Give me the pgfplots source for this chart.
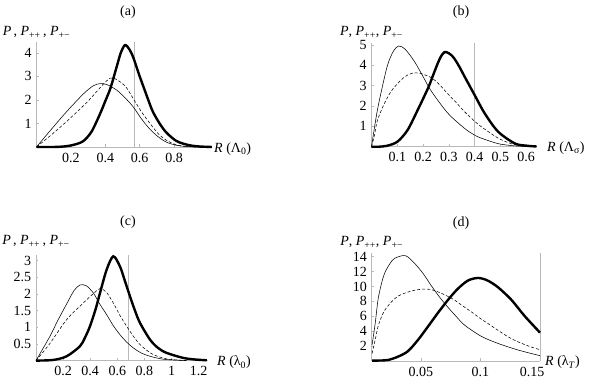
\documentclass[border=0pt]{standalone}
\usepackage{fontspec}
\setmainfont{Liberation Serif}
\usepackage{pgfplots}
\pgfplotsset{compat=1.18}
\pgfplotsset{
 myax/.style={
  scale only axis, axis lines=left, axis line style={-, gray!55, line width=0.6pt},
  tick align=inside, major tick length=2.5pt, tick style={gray!55, line width=0.5pt},
  ymin=0, clip=false, font=\fontsize{14}{16}\selectfont,
  /pgf/number format/assume math mode=true,
  /pgf/number format/fixed, /pgf/number format/precision=2,
  xticklabel style={yshift=-1pt},
 },
 thn/.style={black, line width=0.55pt, smooth},
 dsh/.style={black, line width=0.55pt, dash pattern=on 3pt off 2pt, smooth},
 thk/.style={black, line width=2.4pt, smooth},
 vl/.style={gray!55, line width=0.6pt},
}
\begin{document}
\begin{tikzpicture}
\useasboundingbox (0,0) rectangle (598pt,382pt);
\fontsize{14}{16}\selectfont
% ---------------- (a)
\begin{axis}[myax, at={(36.5pt,235pt)}, anchor=south west, width=175.4pt, height=105.2pt,
  xmin=0, xmax=1.02, ymax=4.47, xtick={0.2,0.4,0.6,0.8}, ytick={1,2,3,4}]
\addplot[vl] coordinates {(0.57,0) (0.57,4.47)};
\addplot[thn] coordinates {(0,0) (0.078,0.68) (0.175,1.5) (0.272,2.25) (0.33,2.6) (0.369,2.69) (0.41,2.65) (0.466,2.42) (0.52,2.05) (0.563,1.7) (0.61,1.2) (0.66,0.75) (0.71,0.42) (0.757,0.2) (0.81,0.08) (0.854,0.03) (0.95,0) (1.02,0)};
\addplot[dsh] coordinates {(0,0) (0.1,0.6) (0.2,1.25) (0.3,1.95) (0.38,2.6) (0.43,2.93) (0.47,2.85) (0.52,2.55) (0.563,2.05) (0.61,1.5) (0.66,1.0) (0.71,0.55) (0.757,0.28) (0.81,0.1) (0.85,0.04) (0.92,0.0) (1.02,0)};
\addplot[thk] coordinates {(0,0) (0.1,0.0) (0.17,0.03) (0.22,0.1) (0.272,0.25) (0.32,0.65) (0.369,1.4) (0.40,1.95) (0.43,2.5) (0.466,3.4) (0.49,4.0) (0.515,4.33) (0.54,4.15) (0.563,3.8) (0.6,3.0) (0.62,2.6) (0.66,1.8) (0.68,1.45) (0.72,0.95) (0.757,0.6) (0.81,0.27) (0.854,0.14) (0.9,0.06) (0.95,0.02) (1.02,0.0)};
\end{axis}
% ---------------- (b)
\begin{axis}[myax, at={(371.5pt,235.3pt)}, anchor=south west, width=165pt, height=103.3pt,
  xmin=0, xmax=0.64, ymax=5.08, xtick={0.1,0.2,0.3,0.4,0.5,0.6}, ytick={1,2,3,4,5}]
\addplot[vl] coordinates {(0.4,0) (0.4,5.08)};
\addplot[thn] coordinates {(0,0) (0.02,1.6) (0.036,2.6) (0.062,4.0) (0.085,4.7) (0.105,4.95) (0.13,4.8) (0.166,4.2) (0.2,3.45) (0.231,2.75) (0.296,1.65) (0.361,0.9) (0.4,0.57) (0.426,0.42) (0.491,0.15) (0.556,0.04) (0.62,0.01)};
\addplot[dsh] coordinates {(0,0) (0.012,0.6) (0.023,1.3) (0.049,2.1) (0.075,2.7) (0.101,3.1) (0.13,3.45) (0.16,3.62) (0.19,3.6) (0.231,3.4) (0.26,3.1) (0.296,2.6) (0.33,2.15) (0.361,1.72) (0.4,1.25) (0.426,0.98) (0.46,0.68) (0.491,0.42) (0.53,0.2) (0.556,0.1) (0.6,0.03) (0.64,0.0)};
\addplot[thk] coordinates {(0,0) (0.03,0.0) (0.062,0.05) (0.101,0.25) (0.14,0.82) (0.179,1.8) (0.22,2.9) (0.24,3.55) (0.257,4.1) (0.27,4.45) (0.283,4.65) (0.296,4.62) (0.31,4.5) (0.322,4.32) (0.34,3.95) (0.361,3.45) (0.4,2.54) (0.439,1.64) (0.491,0.74) (0.556,0.16) (0.6,0.05) (0.64,0.01)};
\end{axis}
% ---------------- (c)
\begin{axis}[myax, at={(36pt,21.4pt)}, anchor=south west, width=172.2pt, height=105.9pt,
  xmin=0, xmax=1.27, ymax=3.18, xtick={0.2,0.4,0.6,0.8,1,1.2}, ytick={0.5,1,1.5,2,2.5,3}]
\addplot[vl] coordinates {(0.68,0) (0.68,3.18)};
\addplot[thn] coordinates {(0,0) (0.103,0.73) (0.16,1.2) (0.226,1.7) (0.28,2.1) (0.324,2.27) (0.37,2.25) (0.423,2.03) (0.47,1.7) (0.521,1.38) (0.57,1.05) (0.619,0.78) (0.67,0.55) (0.718,0.38) (0.78,0.22) (0.841,0.13) (0.9,0.07) (0.964,0.03) (1.11,0.0)};
\addplot[dsh] coordinates {(0,0) (0.1,0.5) (0.226,1.23) (0.349,1.73) (0.42,2.0) (0.472,2.16) (0.52,2.05) (0.57,1.73) (0.62,1.35) (0.669,1.03) (0.72,0.72) (0.767,0.48) (0.82,0.3) (0.865,0.18) (0.964,0.05) (1.11,0.0)};
\addplot[thk] coordinates {(0,0) (0.128,0.02) (0.226,0.13) (0.324,0.43) (0.36,0.68) (0.398,1.03) (0.44,1.55) (0.472,2.03) (0.521,2.73) (0.57,3.13) (0.619,2.83) (0.655,2.4) (0.693,1.93) (0.73,1.5) (0.767,1.13) (0.841,0.63) (0.9,0.38) (0.964,0.23) (1.087,0.08) (1.18,0.03) (1.26,0.01)};
\end{axis}
% ---------------- (d)
\begin{axis}[myax, at={(371.7pt,21.1pt)}, anchor=south west, width=168.3pt, height=107.5pt,
  xmin=0.0086, xmax=0.15, ymax=14.45, xtick={0.05,0.1,0.15},
  xticklabels={0.05,0.1,\hspace*{-16pt}0.15}, ytick={2,4,6,8,10,12,14}]
\addplot[vl] coordinates {(0.15,0) (0.15,14.45)};
\addplot[thn] coordinates {(0.0089,2.14) (0.0115,5.0) (0.0139,8.2) (0.0165,10.2) (0.0195,11.8) (0.024,13.1) (0.028,13.8) (0.0369,14.15) (0.0447,13.1) (0.052,11.7) (0.0587,10.1) (0.066,8.5) (0.0727,7.2) (0.08,5.9) (0.0867,4.8) (0.1007,3.3) (0.1147,2.35) (0.1287,1.6) (0.14,1.1) (0.15,0.7)};
\addplot[dsh] coordinates {(0.0089,1.0) (0.0115,2.8) (0.0139,4.6) (0.0165,5.8) (0.0195,6.8) (0.025,7.9) (0.0307,8.7) (0.038,9.2) (0.0447,9.5) (0.052,9.65) (0.058,9.6) (0.064,9.3) (0.071,8.8) (0.078,8.2) (0.085,7.4) (0.0923,6.6) (0.099,5.8) (0.106,5.05) (0.113,4.3) (0.12,3.55) (0.127,2.9) (0.134,2.4) (0.141,1.95) (0.15,1.5)};
\addplot[thk] coordinates {(0.0089,0.03) (0.015,0.05) (0.0223,0.12) (0.0307,0.57) (0.039,1.3) (0.0474,2.8) (0.0558,4.6) (0.064,6.4) (0.0727,8.2) (0.081,9.7) (0.0895,10.8) (0.098,11.15) (0.106,10.8) (0.1147,9.9) (0.126,8.2) (0.137,6.05) (0.15,3.8)};
\end{axis}
% ---------------- text
\node[anchor=base] at (128pt,366pt) {(a)};
\node[anchor=base] at (461pt,366pt) {(b)};
\node[anchor=base] at (128pt,156pt) {(c)};
\node[anchor=base] at (461pt,155.5pt) {(d)};
\node[anchor=base] at (36.5pt,346pt) {\textit{P}\,, \textit{P}\textsubscript{++}\,, \textit{P}\textsubscript{+−}};
\node[anchor=base] at (371.5pt,346pt) {\textit{P}, \textit{P}\textsubscript{++}, \textit{P}\textsubscript{+−}};
\node[anchor=base] at (36pt,137pt) {\textit{P}\,, \textit{P}\textsubscript{++}\,, \textit{P}\textsubscript{+−}};
\node[anchor=base] at (371.7pt,136pt) {\textit{P}, \textit{P}\textsubscript{++}, \textit{P}\textsubscript{+−}};
\node[anchor=base west, inner sep=0pt] at (214pt,229.5pt) {\textit{R} (Λ\textsubscript{0})};
\node[anchor=base west, inner sep=0pt] at (547pt,230.3pt) {\textit{R} (Λ\textsubscript{σ})};
\node[anchor=base west, inner sep=0pt] at (217pt,16pt) {\textit{R} (λ\textsubscript{0})};
\node[anchor=base west, inner sep=0pt] at (545pt,16pt) {\textit{R} (λ\textsubscript{\textit{T}})};
\end{tikzpicture}
\end{document}
